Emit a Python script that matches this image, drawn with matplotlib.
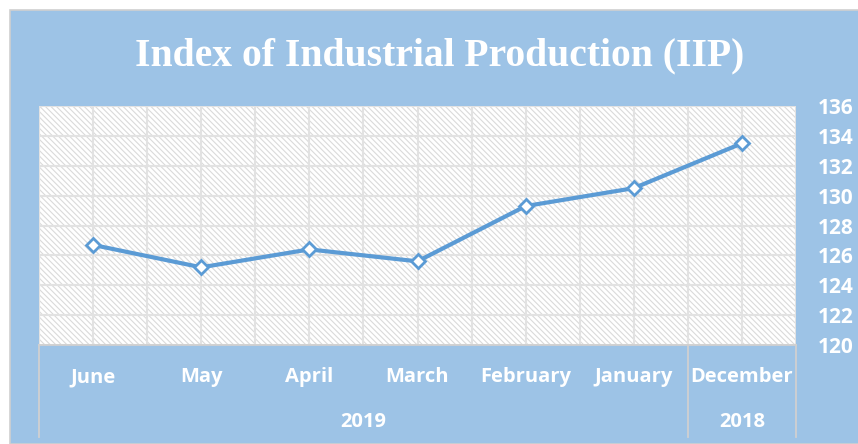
import matplotlib
matplotlib.use('Agg')
import matplotlib.pyplot as plt
from matplotlib.patches import Rectangle
import matplotlib.transforms as mtrans

months = ['June', 'May', 'April', 'March', 'February', 'January', 'December']
iip = [126.7, 125.2, 126.4, 125.6, 129.3, 130.5, 133.5]
years = ['2019', '2018']
year_span = [(0, 5), (6, 6)]   # first and last category index of each year
yticks = [120, 122, 124, 126, 128, 130, 132, 134, 136]

W, H = 858, 444
bg = '#9DC3E6'
blue = '#5B9BD5'
grid = '#E2E2E2'
lab_font = 'Open Sans'

plt.rcParams['hatch.linewidth'] = 0.8
fig = plt.figure(figsize=(W/100, H/100), dpi=100, facecolor='white')

# chart area background with thin grey frame
fig.patches.append(Rectangle((10/W, 0), 1 - 10/W + 0.01, 1 - 10/H, transform=fig.transFigure,
                             facecolor=bg, edgecolor='#D0D0D0', linewidth=1.2, zorder=-10))

fig.text(440/W, 1 - 65/H, 'Index of Industrial Production (IIP)', ha='center', va='baseline',
         color='white', fontsize=28.5, fontweight='bold', family='Liberation Serif')

ax = fig.add_axes([39/W, 1 - 345/H, 757/W, 239/H])
ax.set_facecolor('white')
ax.add_patch(Rectangle((0, 0), 1, 1, transform=ax.transAxes, facecolor='none',
                       edgecolor='#DADADA', hatch='\\' * 6, linewidth=0, zorder=0))

x = list(range(len(months)))
ax.plot(x, iip, color=blue, linewidth=3, marker='D', markersize=7.5,
        markerfacecolor='white', markeredgecolor=blue, markeredgewidth=2, zorder=3)

ax.set_xlim(-0.5, len(months) - 0.5)
ax.set_ylim(120, 136)
ax.set_xticks(x)
ax.set_xticks([i - 0.5 for i in x] + [len(months) - 0.5], minor=True)
ax.set_yticks(yticks)
ax.grid(True, which='both', color=grid, linewidth=1.5, zorder=1)
ax.set_axisbelow(True)
ax.set_xticklabels([])
ax.tick_params(axis='x', which='both', length=0)
ax.yaxis.tick_right()
ax.tick_params(axis='y', length=0, pad=16, labelsize=15, labelcolor='white')
for lab in ax.get_yticklabels():
    lab.set_fontweight('bold')
    lab.set_family(lab_font)
for s in ['top', 'left', 'right']:
    ax.spines[s].set_visible(False)
ax.spines['bottom'].set_color('#D0D0D0')
ax.spines['bottom'].set_linewidth(1.3)

trans = mtrans.blended_transform_factory(ax.transData, ax.transAxes)
ph = 239
for i, m in enumerate(months):
    ax.text(i, -32/ph, m, transform=trans, ha='center', va='center', color='white',
            fontsize=14.5, fontweight='bold', family=lab_font)
for (a, b), yr in zip(year_span, years):
    ax.text((a + b) / 2, -77/ph, yr, transform=trans, ha='center', va='center', color='white',
            fontsize=14.5, fontweight='bold', family=lab_font)
for xv in [-0.5, 5.5, 6.5]:
    ax.plot([xv, xv], [0, -92/ph], transform=trans, color='#D0D0D0', linewidth=1.3, clip_on=False)

fig.savefig('out.png', dpi=100, facecolor='white')
